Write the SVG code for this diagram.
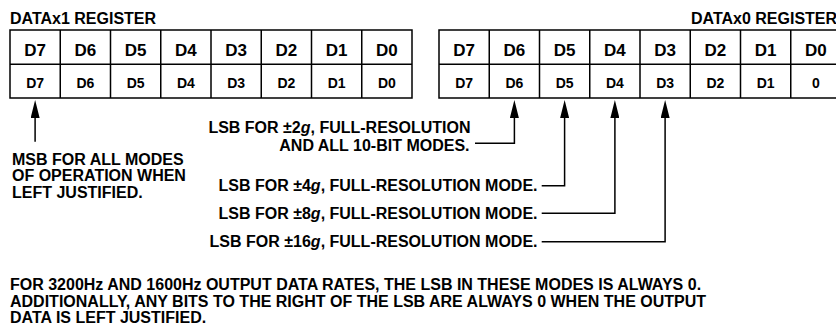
<svg xmlns="http://www.w3.org/2000/svg" width="836" height="329" viewBox="0 0 836 329">
<style>
text{font-family:"Liberation Sans",Arial,Helvetica,sans-serif;font-weight:bold;fill:#000}
.t{font-size:16px}
.h{font-size:17px;text-anchor:middle}
.c{font-size:14px;text-anchor:middle}
.e{text-anchor:end}
.grid{fill:#fff;stroke:#000;stroke-width:1.5}
.div{stroke:#000;stroke-width:1.5}
.conn{fill:none;stroke:#000;stroke-width:1.5;marker-end:url(#ah)}
</style>
<defs>
<marker id="ah" markerUnits="userSpaceOnUse" viewBox="0 0 18 9" refX="8" refY="4.5" markerWidth="18" markerHeight="9" orient="auto">
<path d="M0,0 L18,4.5 L0,9 z" fill="#000"/>
</marker>
</defs>
<rect width="836" height="329" fill="#fff"/>
<g id="datax1">
<text class="t" x="10" y="24">DATAx1 REGISTER</text>
<rect class="grid" x="10" y="30" width="402" height="68"/>
<path class="div" d="M10,64.3H412M60.25,30V98M110.5,30V98M160.75,30V98M211,30V98M261.25,30V98M311.5,30V98M361.75,30V98"/>
<text class="h" x="35.1" y="56">D7</text><text class="h" x="85.4" y="56">D6</text><text class="h" x="135.6" y="56">D5</text><text class="h" x="185.9" y="56">D4</text><text class="h" x="236.1" y="56">D3</text><text class="h" x="286.4" y="56">D2</text><text class="h" x="336.6" y="56">D1</text><text class="h" x="386.9" y="56">D0</text>
<text class="c" x="35.1" y="87.7">D7</text><text class="c" x="85.4" y="87.7">D6</text><text class="c" x="135.6" y="87.7">D5</text><text class="c" x="185.9" y="87.7">D4</text><text class="c" x="236.1" y="87.7">D3</text><text class="c" x="286.4" y="87.7">D2</text><text class="c" x="336.6" y="87.7">D1</text><text class="c" x="386.9" y="87.7">D0</text>
</g>
<g id="datax0">
<text class="t" x="691" y="24">DATAx0 REGISTER</text>
<rect class="grid" x="439" y="30" width="402" height="68"/>
<path class="div" d="M439,64.3H841M489.25,30V98M539.5,30V98M589.75,30V98M640,30V98M690.25,30V98M740.5,30V98M790.75,30V98"/>
<text class="h" x="464.1" y="56">D7</text><text class="h" x="514.4" y="56">D6</text><text class="h" x="564.6" y="56">D5</text><text class="h" x="614.9" y="56">D4</text><text class="h" x="665.1" y="56">D3</text><text class="h" x="715.4" y="56">D2</text><text class="h" x="765.6" y="56">D1</text><text class="h" x="815.9" y="56">D0</text>
<text class="c" x="464.1" y="87.7">D7</text><text class="c" x="514.4" y="87.7">D6</text><text class="c" x="564.6" y="87.7">D5</text><text class="c" x="614.9" y="87.7">D4</text><text class="c" x="665.1" y="87.7">D3</text><text class="c" x="715.4" y="87.7">D2</text><text class="c" x="765.6" y="87.7">D1</text><text class="c" x="815.9" y="87.7">0</text>
</g>
<g id="msb-note">
<text class="t" x="12" y="164.5">MSB FOR ALL MODES</text>
<text class="t" x="12" y="181">OF OPERATION WHEN</text>
<text class="t" x="12" y="197.5">LEFT JUSTIFIED.</text>
</g>
<g id="lsb-2g">
<text class="t e" x="470.5" y="133.3">LSB FOR ±2<tspan font-style="italic">g</tspan>, FULL-RESOLUTION</text>
<text class="t e" x="469.5" y="150.5">AND ALL 10-BIT MODES.</text>
</g>
<g id="lsb-4g"><text class="t e" x="537.5" y="190.7">LSB FOR ±4<tspan font-style="italic">g</tspan>, FULL-RESOLUTION MODE.</text></g>
<g id="lsb-8g"><text class="t e" x="537.5" y="218.5">LSB FOR ±8<tspan font-style="italic">g</tspan>, FULL-RESOLUTION MODE.</text></g>
<g id="lsb-16g"><text class="t e" x="537.5" y="246.7">LSB FOR ±16<tspan font-style="italic">g</tspan>, FULL-RESOLUTION MODE.</text></g>
<g id="footnote">
<text class="t" x="10" y="290">FOR 3200Hz AND 1600Hz OUTPUT DATA RATES, THE LSB IN THESE MODES IS ALWAYS 0.</text>
<text class="t" x="10" y="306.5">ADDITIONALLY, ANY BITS TO THE RIGHT OF THE LSB ARE ALWAYS 0 WHEN THE OUTPUT</text>
<text class="t" x="10" y="323">DATA IS LEFT JUSTIFIED.</text>
</g>
<g id="connectors">
<path class="conn" d="M35.1,141.7V110"/>
<path class="conn" d="M475,143.3H514.4V110"/>
<path class="conn" d="M541.7,185.7H564.6V110"/>
<path class="conn" d="M541.7,213.3H614.9V110"/>
<path class="conn" d="M541.7,241.7H665.1V110"/>
</g>
</svg>
